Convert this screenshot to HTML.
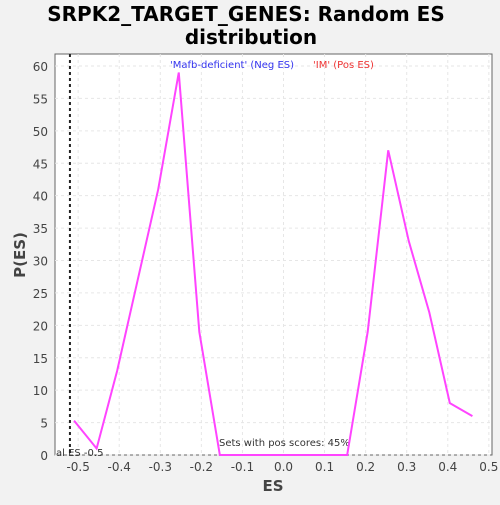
<!DOCTYPE html>
<html><head><meta charset="utf-8"><style>
body{margin:0;background:#f2f2f2;width:500px;height:500px;overflow:hidden;font-family:"Liberation Sans","DejaVu Sans",sans-serif}
</style></head><body>
<svg width="500" height="500" xmlns="http://www.w3.org/2000/svg" id="svg">
<text x="246" y="21" text-anchor="middle" font-size="20" font-weight="bold" font-family="DejaVu Sans,sans-serif">SRPK2_TARGET_GENES: Random ES</text>
<text x="251" y="44" text-anchor="middle" font-size="20" font-weight="bold" font-family="DejaVu Sans,sans-serif">distribution</text>
<rect x="55" y="54" width="437" height="401" fill="#fff" stroke="#666"/>
<g id="grid"></g><g id="ticks"></g>
<text x="273" y="491" text-anchor="middle" font-size="15" font-weight="bold" fill="#444" font-family="DejaVu Sans,sans-serif">ES</text>
<text transform="translate(25,255) rotate(-90)" text-anchor="middle" font-size="15" font-weight="bold" fill="#444" font-family="DejaVu Sans,sans-serif">P(ES)</text>
<text x="170" y="68" font-size="10" fill="#3333ee" font-family="DejaVu Sans,sans-serif">'Mafb-deficient' (Neg ES)</text>
<text x="313" y="68" font-size="10" fill="#ee3333" font-family="DejaVu Sans,sans-serif">'IM' (Pos ES)</text>
<text x="219" y="446" font-size="10" fill="#333" font-family="DejaVu Sans,sans-serif">Sets with pos scores: 45%</text>
<text x="56" y="456" font-size="10" fill="#333" font-family="DejaVu Sans,sans-serif">al ES -0.5</text>
<g id="marks"></g>
</svg>
<script>
const xTicks=[-0.5,-0.4,-0.3,-0.2,-0.1,0.0,0.1,0.2,0.3,0.4,0.5];
const xTickLabels=["-0.5","-0.4","-0.3","-0.2","-0.1","0.0","0.1","0.2","0.3","0.4","0.5"];
const yTicks=[0,5,10,15,20,25,30,35,40,45,50,55,60];
const esValues=[-0.51,-0.455,-0.405,-0.355,-0.305,-0.255,-0.205,-0.155,-0.1,-0.05,0,0.05,0.1,0.155,0.205,0.255,0.305,0.355,0.405,0.46];
const pValues=[5.3,1,13,27,41,59,19,0,0,0,0,0,0,0,19,47,33,22,8,6];
const actualES=-0.52;
const X=v=>283.5+v*410.7, Y=v=>455-v*6.483;
const NS="http://www.w3.org/2000/svg";
function mk(t,a,p){const e=document.createElementNS(NS,t);for(const k in a)e.setAttribute(k,a[k]);document.getElementById(p).appendChild(e);return e;}
xTicks.forEach((t,i)=>{
 const g=mk('line',{x1:X(t),x2:X(t),y1:54,y2:455,stroke:'#e6e6e6','stroke-dasharray':'3,3'},'grid');
 
 
 const l=mk('text',{x:X(t),y:471,'text-anchor':'middle','font-size':12,fill:'#444','font-family':'DejaVu Sans,sans-serif'},'ticks');
 l.textContent=xTickLabels[i];
 
 
});
yTicks.forEach(t=>{
 const g=mk('line',{x1:55,x2:492,y1:Y(t),y2:Y(t),stroke:'#e6e6e6','stroke-dasharray':'3,3'},'grid');
 
 
 const l=mk('text',{x:48,y:Y(t)+5,'text-anchor':'end','font-size':12,fill:'#444','font-family':'DejaVu Sans,sans-serif'},'ticks');
 l.textContent=String(t);
 
 
});
const d=mk('line',{x1:X(actualES),x2:X(actualES),y1:54,y2:455,stroke:'#222','stroke-width':2,'stroke-dasharray':'3,3'},'marks');


const pl=mk('polyline',{points:esValues.map((e,i)=>X(e)+','+Y(pValues[i])).join(' '),fill:'none',stroke:'#ff44ff','stroke-width':2},'marks');


</script>
</body></html>
